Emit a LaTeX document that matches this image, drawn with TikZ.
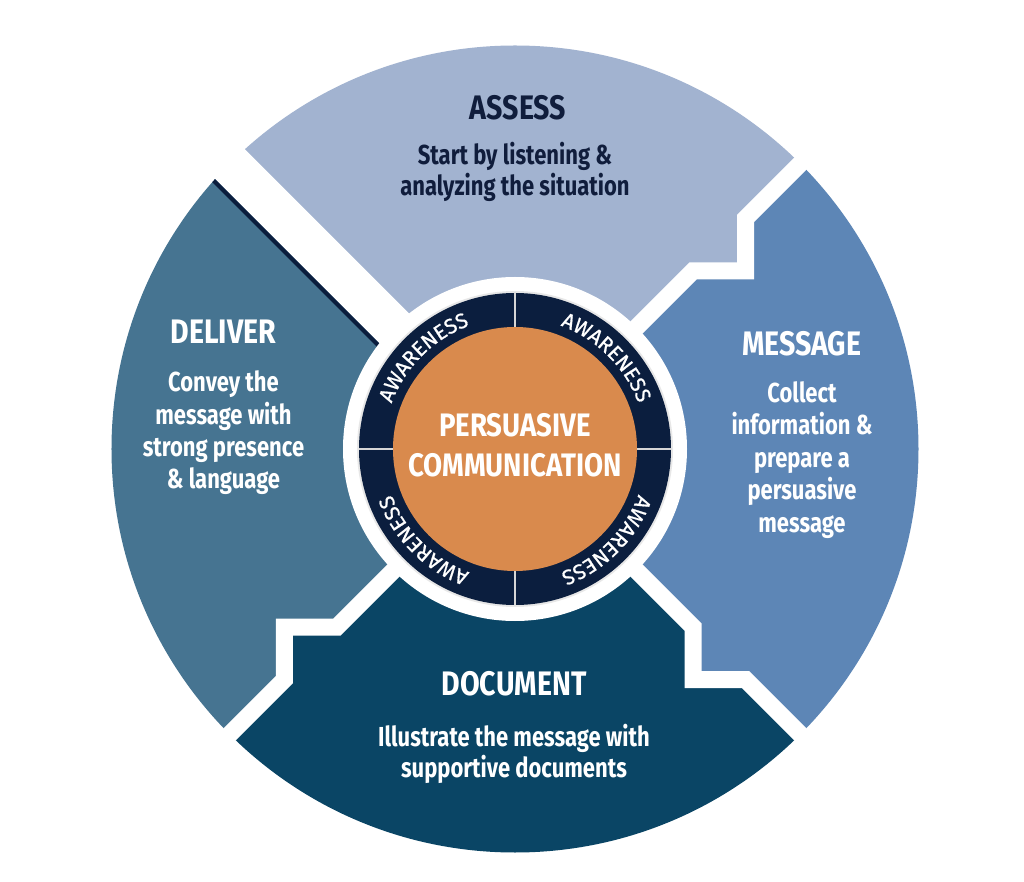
\documentclass[tikz,border=0pt]{standalone}
\usepackage{fontspec}
\usetikzlibrary{decorations.text}
\setmainfont{Fira Sans}
\newfontfamily\headfam[FakeStretch=0.84]{Fira Sans}
\newfontfamily\bodyfam[FakeStretch=0.80]{Fira Sans}
\newfontfamily\centfam[FakeStretch=0.85]{Fira Sans}
\newfontfamily\ringfam[LetterSpace=11, FakeBold=0.8]{Fira Sans}
\newcommand\headfmt{\headfam\bfseries\fontsize{34}{36}\selectfont}
\newcommand\bodyfmt{\bodyfam\bfseries\fontsize{27.5}{32}\selectfont}
\newcommand\centfmt{\centfam\bfseries\fontsize{32.5}{40}\selectfont}
\newcommand\ringfmt{\color{white}\ringfam\fontsize{21}{21}\selectfont}
\definecolor{cAssess}{HTML}{A2B3D0}
\definecolor{cMessage}{HTML}{5D86B6}
\definecolor{cDocument}{HTML}{0A4565}
\definecolor{cDeliver}{HTML}{467491}
\definecolor{cNavy}{HTML}{0B1E3E}
\definecolor{cOrange}{HTML}{D98A4D}
\definecolor{cDivider}{HTML}{D6D6D6}
\definecolor{cAssessTxt}{HTML}{101D3C}
\tikzset{
  gapline/.style={white, line width=17, miter limit=10, line join=miter},
  headtxt/.style={anchor=base, inner sep=0pt, font=\headfmt},
  bodytxt/.style={anchor=base, inner sep=0pt, font=\bodyfmt},
  centtxt/.style={anchor=base, inner sep=0pt, font=\centfmt, text=white},
  divider/.style={cDivider, line width=2.5},
  ringtext/.style={decorate, decoration={text along path, text align=center, text={|\ringfmt|AWARENESS}}}
}
\begin{document}
\begin{tikzpicture}[x=1pt,y=1pt]
\useasboundingbox (-515,-433) rectangle (509,449);
\fill[white] (-515,-433) rectangle (509,449);
% step points on the gap centre lines
\coordinate (O) at (0,0);
\coordinate (A1) at (178.2,178.2);
\coordinate (AC) at (230.5,178.2);
\coordinate (A2) at (230.5,230.5);
\coordinate (AF) at (500,500);
\coordinate (B1) at (178.2,-178.2);
\coordinate (BC) at (178.2,-230.5);
\coordinate (B2) at (230.5,-230.5);
\coordinate (BF) at (500,-500);
\coordinate (C1) at (-178.2,-178.2);
\coordinate (CC) at (-230.5,-178.2);
\coordinate (C2) at (-230.5,-230.5);
\coordinate (CF) at (-500,-500);
\coordinate (DF) at (-500,500);
\coordinate (N0) at (-16.4,-16.4);
\coordinate (N1) at (-536.4,503.6);
% the four pieces
\begin{scope}
  \clip (O) circle[radius=403.5];
  \fill[cAssess] (O) -- (A1) -- (AC) -- (A2) -- (AF) -- (DF) -- cycle;
  \fill[cMessage] (O) -- (A1) -- (AC) -- (A2) -- (AF) -- (BF) -- (B2) -- (BC) -- (B1) -- cycle;
  \fill[cDocument] (O) -- (B1) -- (BC) -- (B2) -- (BF) -- (CF) -- (C2) -- (CC) -- (C1) -- cycle;
  \fill[cDeliver] (O) -- (C1) -- (CC) -- (C2) -- (CF) -- (DF) -- cycle;
  \draw[cNavy, line width=4.3] (N0) -- (N1);
\end{scope}
% white gaps
\draw[gapline] (O) -- (A1) -- (AC) -- (A2) -- (AF);
\draw[gapline] (O) -- (B1) -- (BC) -- (B2) -- (BF);
\draw[gapline] (O) -- (C1) -- (CC) -- (C2) -- (CF);
\draw[white, line width=42] (O) -- (DF);
% centre
\fill[white] (O) circle[radius=172];
\draw[cDivider!60, line width=3] (O) circle[radius=156.5];
\fill[cNavy] (O) circle[radius=156];
\draw[divider] (0,121) -- (0,156);
\draw[divider] (0,-121) -- (0,-156);
\draw[divider] (121,0) -- (156,0);
\draw[divider] (-121,0) -- (-156,0);
\fill[cOrange] (O) circle[radius=122];
\path[ringtext] (172:131.5) arc[start angle=172, end angle=98, radius=131.5];
\path[ringtext] (82:131.5) arc[start angle=82, end angle=8, radius=131.5];
\path[ringtext] (-8:131.5) arc[start angle=-8, end angle=-82, radius=131.5];
\path[ringtext] (-98:131.5) arc[start angle=-98, end angle=-172, radius=131.5];
\node[centtxt] (c1) at (0,12) {PERSUASIVE};
\node[centtxt] (c2) at (0,-28) {COMMUNICATION};
% ASSESS
\node[headtxt, text=cAssessTxt] (aH) at (3,329) {ASSESS};
\node[bodytxt, text=cAssessTxt] (aB1) at (0,284) {Start by listening \&};
\node[bodytxt, text=cAssessTxt] (aB2) at (0,253) {analyzing the situation};
% DELIVER
\node[headtxt, text=white] (dH) at (-291.5,105) {DELIVER};
\node[bodytxt, text=white] (dB1) at (-291.5,57) {Convey the};
\node[bodytxt, text=white] (dB2) at (-291.5,24.5) {message with};
\node[bodytxt, text=white] (dB3) at (-291.5,-8) {strong presence};
\node[bodytxt, text=white] (dB4) at (-291.5,-40) {\& language};
% MESSAGE
\node[headtxt, text=white] (mH) at (286.7,93) {MESSAGE};
\node[bodytxt, text=white] (mB1) at (287,46.7) {Collect};
\node[bodytxt, text=white] (mB2) at (287,14) {information \&};
\node[bodytxt, text=white] (mB3) at (287,-18.5) {prepare a};
\node[bodytxt, text=white] (mB4) at (287,-51) {persuasive};
\node[bodytxt, text=white] (mB5) at (287,-84) {message};
% DOCUMENT
\node[headtxt, text=white] (oH) at (-1,-246) {DOCUMENT};
\node[bodytxt, text=white] (oB1) at (-1,-297.5) {Illustrate the message with};
\node[bodytxt, text=white] (oB2) at (-1,-328.5) {supportive documents};
\end{tikzpicture}
\end{document}
